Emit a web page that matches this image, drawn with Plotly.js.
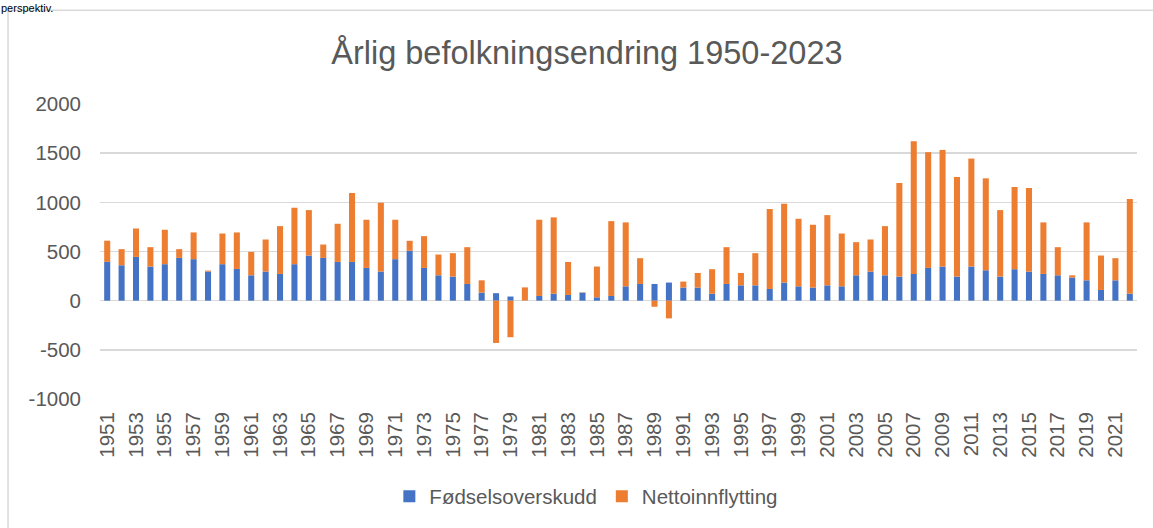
<!DOCTYPE html>
<html>
<head>
<meta charset="utf-8">
<script src="https://cdn.plot.ly/plotly-3.0.1.min.js"></script>
<style>
html,body{margin:0;padding:0;background:#fff;}
#chart{width:1153px;height:528px;}
</style>
</head>
<body>
<div id="chart"></div>
<script>
const years = ['1951','1952','1953','1954','1955','1956','1957','1958','1959','1960',
'1961','1962','1963','1964','1965','1966','1967','1968','1969','1970',
'1971','1972','1973','1974','1975','1976','1977','1978','1979','1980',
'1981','1982','1983','1984','1985','1986','1987','1988','1989','1990',
'1991','1992','1993','1994','1995','1996','1997','1998','1999','2000',
'2001','2002','2003','2004','2005','2006','2007','2008','2009','2010',
'2011','2012','2013','2014','2015','2016','2017','2018','2019','2020',
'2021','2022'];

const fodselsoverskudd = [395,360,445,347,371,435,422,296,371,323,
258,296,272,371,459,435,394,394,333,296,
422,507,333,258,245,170,82,76,42,2,
48,71,58,82,34,48,146,170,170,184,
133,133,71,170,156,156,119,184,146,133,
156,146,258,296,258,245,272,333,347,245,
347,309,245,320,296,272,258,235,207,109,
207,71];

const nettoinnflytting = [215,164,289,197,350,89,272,10,312,371,
238,326,486,574,462,136,388,701,490,700,
401,102,323,211,238,374,125,-430,-372,133,
775,776,336,3,313,761,650,262,-62,-180,
61,149,249,374,126,327,813,802,687,639,
714,537,337,326,500,952,1350,1177,1186,1013,
1098,935,676,836,850,524,286,23,589,350,
225,963];

const tickLabels = ['1951','1953','1955','1957','1959','1961','1963','1965','1967','1969',
'1971','1973','1975','1977','1979','1981','1983','1985','1987','1989',
'1991','1993','1995','1997','1999','2001','2003','2005','2007','2009',
'2011','2013','2015','2017','2019','2021'];

const yTicks = [-1000,-500,0,500,1000,1500,2000];

const FONT = 'Liberation Sans, Arial, sans-serif';
const GREY = '#595959';

const traces = [
  {type:'bar', name:'Fødselsoverskudd', x:years, y:fodselsoverskudd,
   marker:{color:'#4472C4'}},
  {type:'bar', name:'Nettoinnflytting', x:years, y:nettoinnflytting,
   marker:{color:'#ED7D31'}}
];

const layout = {
  width:1153, height:528,
  margin:{l:100, r:16, t:104, b:127, pad:0},
  paper_bgcolor:'#fff', plot_bgcolor:'#fff',
  barmode:'relative', bargap:0.58,
  showlegend:true,
  font:{family:FONT, color:GREY, size:20.5},
  title:{text:'Årlig befolkningsendring 1950-2023',
    font:{family:FONT, size:32.5, color:GREY},
    xref:'container', x:0.509, xanchor:'center',
    yref:'container', y:0.90, yanchor:'middle'},
  xaxis:{type:'category', tickmode:'array', tickvals:tickLabels, ticktext:tickLabels,
    tickangle:-90, showgrid:false, showline:false, zeroline:false, ticks:'',
    ticklabelstandoff:8,
    tickfont:{family:FONT, size:20.5, color:GREY}},
  yaxis:{range:[-1000,2000], tickmode:'array', tickvals:yTicks, ticktext:yTicks.map(String),
    showgrid:true, gridcolor:'#d9d9d9', gridwidth:1.5,
    zeroline:true, zerolinecolor:'#d9d9d9', zerolinewidth:1.5,
    showline:false, ticks:'', ticklabelstandoff:18,
    tickfont:{family:FONT, size:20.5, color:GREY}},
  legend:{orientation:'h', x:0.469, xanchor:'center', y:-0.33, yanchor:'middle',
    font:{family:FONT, size:20.5, color:GREY}, traceorder:'normal'},
  shapes:[
    {type:'rect', xref:'paper', yref:'paper', x0:-0.0887, x1:1.2, y0:-0.6, y1:1.318,
     line:{color:'#d9d9d9', width:1.5}, fillcolor:'rgba(0,0,0,0)', layer:'below'}
  ],
  annotations:[
    {text:'perspektiv.', xref:'paper', yref:'paper', x:-0.0964, xanchor:'left',
     y:1.3485, yanchor:'top', showarrow:false, borderpad:0,
     font:{family:FONT, size:11, color:'#000'}}
  ]
};

Plotly.newPlot('chart', traces, layout, {displayModeBar:false, staticPlot:true});
</script>
</body>
</html>
